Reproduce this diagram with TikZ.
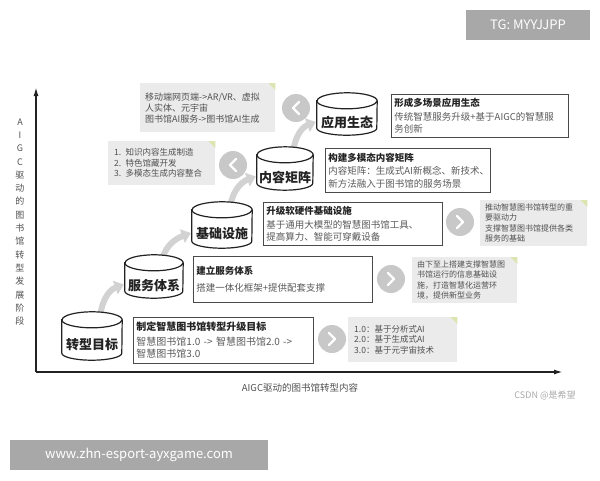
\documentclass[tikz,border=0pt]{standalone}
\usepackage{fontspec}
\setmainfont{Noto Sans CJK SC}
\usetikzlibrary{arrows.meta,backgrounds}
\definecolor{penColor}{HTML}{222222}
\definecolor{boxLine}{HTML}{4A4A4A}
\definecolor{bodyText}{HTML}{5A5A5A}
\definecolor{noteFill}{HTML}{EBEBEB}
\definecolor{noteText}{HTML}{505050}
\definecolor{foldColor}{HTML}{DDE4B0}
\definecolor{knobColor}{HTML}{C8C8C8}
\definecolor{flowColor}{HTML}{D2D2D2}
\definecolor{markColor}{HTML}{A8A8A8}
\tikzset{
  stage/.style={rectangle, inner sep=0pt, text height=29pt, text depth=2pt,
    font=\fontsize{13}{15}\selectfont\bfseries, text=penColor},
  drumline/.style={draw=penColor, fill=white, line width=1.2pt},
  goal/.style={draw=boxLine, line width=0.9pt, fill=white, anchor=north west, align=left,
    inner xsep=3pt, font=\fontsize{9.5}{12.5}\selectfont, text=penColor},
  note/.style={fill=noteFill, anchor=north west, align=left, inner xsep=6pt,
    font=\fontsize{8.5}{10.5}\selectfont, text=noteText},
  knob/.style={circle, fill=knobColor, minimum size=28pt, inner sep=0pt},
  chev/.style={white, line width=2.2pt, line cap=round, line join=round},
  flow/.style={flowColor, line width=6pt, -{Triangle[width=14pt,length=9pt]}},
  axis/.style={penColor, line width=1.6pt, -{Latex[length=9pt,width=5pt]}},
  wmark/.style={fill=markColor, text=white, inner sep=0pt, font=\fontsize{13}{15}\selectfont},
}

\begin{document}
\begin{tikzpicture}[x=1pt,y=-1pt]
\useasboundingbox (0,0) rectangle (600,480);

% axes
\coordinate (o) at (36,372);
\coordinate (ytip) at (36,87);
\coordinate (xtip) at (563,372);
\draw[axis] (o) -- (ytip);
\draw[axis] (o) -- (xtip);
\node[text=noteText, align=center, font=\fontsize{9}{13.3}\selectfont] (ylab) at (20,222)
  {A\\I\\G\\C\\驱\\动\\的\\图\\书\\馆\\转\\型\\发\\展\\阶\\段};
\node[text=noteText, font=\fontsize{9.5}{11}\selectfont] (xlab) at (300,388) {AIGC驱动的图书馆转型内容};

% stages
\node[stage, minimum width=60pt, minimum height=48pt] (c1) at (92,336) {转型目标};
\node[stage, minimum width=58pt, minimum height=43pt] (c2) at (154,276.5) {服务体系};
\node[stage, minimum width=60pt, minimum height=46pt] (c3) at (222,225) {基础设施};
\node[stage, minimum width=56pt, minimum height=43pt] (c4) at (285,168.5) {内容矩阵};
\node[stage, minimum width=60pt, minimum height=42pt] (c5) at (347,114) {应用生态};

\begin{scope}[on background layer]
\draw[flow] ([shift={(8,10)}]c1.north) to[out=90,in=200] ([shift={(-1,8)}]c2.west);
\draw[flow] ([shift={(8,10)}]c2.north) to[out=90,in=200] ([shift={(-1,8)}]c3.west);
\draw[flow] ([shift={(8,10)}]c3.north) to[out=90,in=200] ([shift={(-1,8)}]c4.west);
\draw[flow] ([shift={(8,10)}]c4.north) to[out=90,in=200] ([shift={(-1,8)}]c5.west);
\foreach \c/\r in {c1/30,c2/29,c3/30,c4/28,c5/30}{
  \path[drumline] ([yshift=-8pt]\c.north west) -- ([yshift=7pt]\c.south west)
    arc[start angle=180, end angle=360, x radius=\r pt, y radius=7pt]
    -- ([yshift=-8pt]\c.north east)
    arc[start angle=0, end angle=180, x radius=\r pt, y radius=8pt] -- cycle;
  \draw[drumline, fill=none] ([yshift=-8pt]\c.north west)
    arc[start angle=180, end angle=360, x radius=\r pt, y radius=8pt];
}
\end{scope}

% goal boxes
\node[goal, minimum width=180pt, minimum height=46pt, text width=174pt,
  font=\fontsize{10}{12.5}\selectfont] (g1) at (133,317)
  {\textbf{制定智慧图书馆转型升级目标}\\[2pt]{\color{bodyText}智慧图书馆1.0 -> 智慧图书馆2.0 ->\\智慧图书馆3.0}};
\node[goal, minimum width=179pt, minimum height=46pt, text width=173pt] (g2) at (193,256)
  {\textbf{建立服务体系}\\[4pt]{\color{bodyText}搭建一体化框架+提供配套支撑}};
\node[goal, minimum width=179pt, minimum height=43pt, text width=173pt] (g3) at (263,202)
  {\textbf{升级软硬件基础设施}\\[1pt]{\color{bodyText}基于通用大模型的智慧图书馆工具、\\提高算力、智能可穿戴设备}};
\node[goal, minimum width=165pt, minimum height=44pt, text width=159pt] (g4) at (325,148)
  {\textbf{构建多模态内容矩阵}\\[1pt]{\color{bodyText}内容矩阵：生成式AI新概念、新技术、\\新方法融入于图书馆的服务场景}};
\node[goal, minimum width=175pt, minimum height=43pt, text width=171pt] (g5) at (391,94)
  {\textbf{形成多场景应用生态}\\[1pt]{\color{bodyText}传统智慧服务升级+基于AIGC的智慧服\\务创新}};

% notes
\node[note, minimum width=135pt, minimum height=49pt, text width=125pt, inner xsep=5pt,
  font=\fontsize{9}{11}\selectfont] (nA) at (140,83)
  {移动端网页端->AR/VR、虚拟\\人实体、元宇宙\\图书馆AI服务->图书馆AI生成};
\node[note, minimum width=107pt, minimum height=44pt, text width=95pt] (nB) at (108,141)
  {1. 知识内容生成制造\\2. 特色馆藏开发\\3. 多模态生成内容整合};
\node[note, minimum width=107pt, minimum height=45pt, text width=97pt, inner xsep=5pt,
  font=\fontsize{8}{10.5}\selectfont] (nC) at (480,200)
  {推动智慧图书馆转型的重\\要驱动力\\支撑智慧图书馆提供各类\\服务的基础};
\node[note, minimum width=105pt, minimum height=46pt, text width=95pt, inner xsep=5pt,
  font=\fontsize{8}{10.5}\selectfont] (nD) at (412,257)
  {由下至上搭建支撑智慧图\\书馆运行的信息基础设\\施，打造智慧化运营环\\境，提供新型业务};
\node[note, minimum width=109pt, minimum height=45pt, text width=97pt] (nE) at (348,317)
  {1.0：基于分析式AI\\2.0：基于生成式AI\\3.0：基于元宇宙技术};
\foreach \n in {nA,nB,nC,nD,nE}
  \fill[foldColor] (\n.north east) -- ++(-7,0) -- ++(7,7) -- cycle;

% knobs
\node[knob] (k1) at (332,339) {};
\node[knob] (k2) at (391,279) {};
\node[knob] (k3) at (460,222) {};
\node[knob] (k4) at (233,165) {};
\node[knob] (k5) at (296,108) {};
\foreach \k in {k1,k2,k3}
  \draw[chev] (\k.center) ++(-3,-6) -- ++(6,6) -- ++(-6,6);
\foreach \k in {k4,k5}
  \draw[chev] (\k.center) ++(3,-6) -- ++(-6,6) -- ++(6,6);

% marks
\node[text=markColor, font=\fontsize{9}{11}\selectfont] (csdn) at (545,395) {CSDN @是希望};
\node[wmark, minimum width=124pt, minimum height=30pt] (tg) at (528,25) {TG: MYYJJPP};
\node[wmark, minimum width=258pt, minimum height=30pt] (www) at (139,455) {www.zhn-esport-ayxgame.com};
\end{tikzpicture}
\end{document}
